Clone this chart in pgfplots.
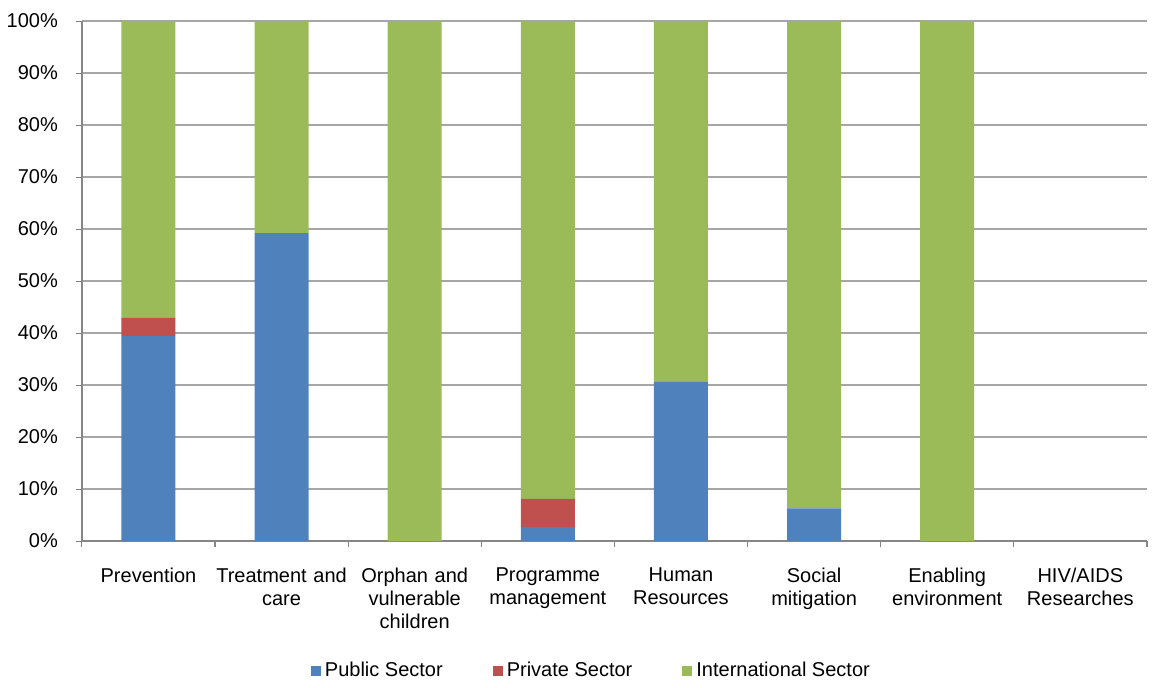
\documentclass[border=0pt]{standalone}
\usepackage{fontspec}
\setmainfont{Liberation Sans}
\usepackage{pgfplots}
\pgfplotsset{compat=1.18}
\definecolor{pubblue}{HTML}{4F81BD}
\definecolor{privred}{HTML}{C0504D}
\definecolor{intlgreen}{HTML}{9BBB59}
\definecolor{axgray}{HTML}{868686}
\definecolor{gridgray}{HTML}{A6A6A6}
\begin{document}
\begin{tikzpicture}
\begin{axis}[
    scale only axis,
    width=532.5pt, height=260pt,
    ybar stacked,
    bar width=27pt,
    xmin=-0.5, xmax=7.5,
    ymin=0, ymax=100,
    axis x line*=bottom,
    axis y line*=left,
    axis line style={axgray, line width=0.8pt},
    xtick={0,...,7},
    xticklabels={Prevention, Treatment and\\care, Orphan and\\vulnerable\\children, Programme\\management, Human\\Resources, Social\\mitigation, Enabling\\environment, HIV/AIDS\\Researches},
    major x tick style={draw=none},
    minor xtick={-0.5,0.5,...,7.5},
    minor x tick style={axgray, line width=0.6pt},
    xticklabel style={font=\fontsize{10}{11.5}\selectfont, align=center, text width=68pt, yshift=-7pt},
    ytick={0,10,...,100},
    yticklabels={0\%,10\%,20\%,30\%,40\%,50\%,60\%,70\%,80\%,90\%,100\%},
    yticklabel style={font=\fontsize{10}{11.5}\selectfont, xshift=-5.5pt},
    tick align=outside,
    major tick length=3pt,
    minor tick length=3pt,
    ymajorgrids,
    grid style={gridgray, line width=0.9pt},
    legend style={at={(0.5,-0.25)}, anchor=center, xshift=-11pt, draw=none, legend columns=3,
        font=\fontsize{10}{11.5}\selectfont,
        /tikz/every odd column/.append style={column sep=0pt},
        /tikz/every even column/.append style={column sep=23pt}},
    legend cell align=left,
    area legend,
    legend image code/.code={\fill[#1] (0pt,-2.5pt) rectangle (5pt,2.5pt);},
]
\addplot[fill=pubblue, draw=none] coordinates {(0,39.4) (1,59.2) (2,0) (3,2.7) (4,30.6) (5,6.3) (6,0) (7,0)};
\addplot[fill=privred, draw=none] coordinates {(0,3.5) (1,0) (2,0) (3,5.4) (4,0) (5,0) (6,0) (7,0)};
\addplot[fill=intlgreen, draw=none] coordinates {(0,57.1) (1,40.8) (2,100) (3,91.9) (4,69.4) (5,93.7) (6,100) (7,0)};
\legend{Public Sector, Private Sector, International Sector}
\end{axis}
\path ([yshift=10.5pt]current axis.north);
\end{tikzpicture}
\end{document}
